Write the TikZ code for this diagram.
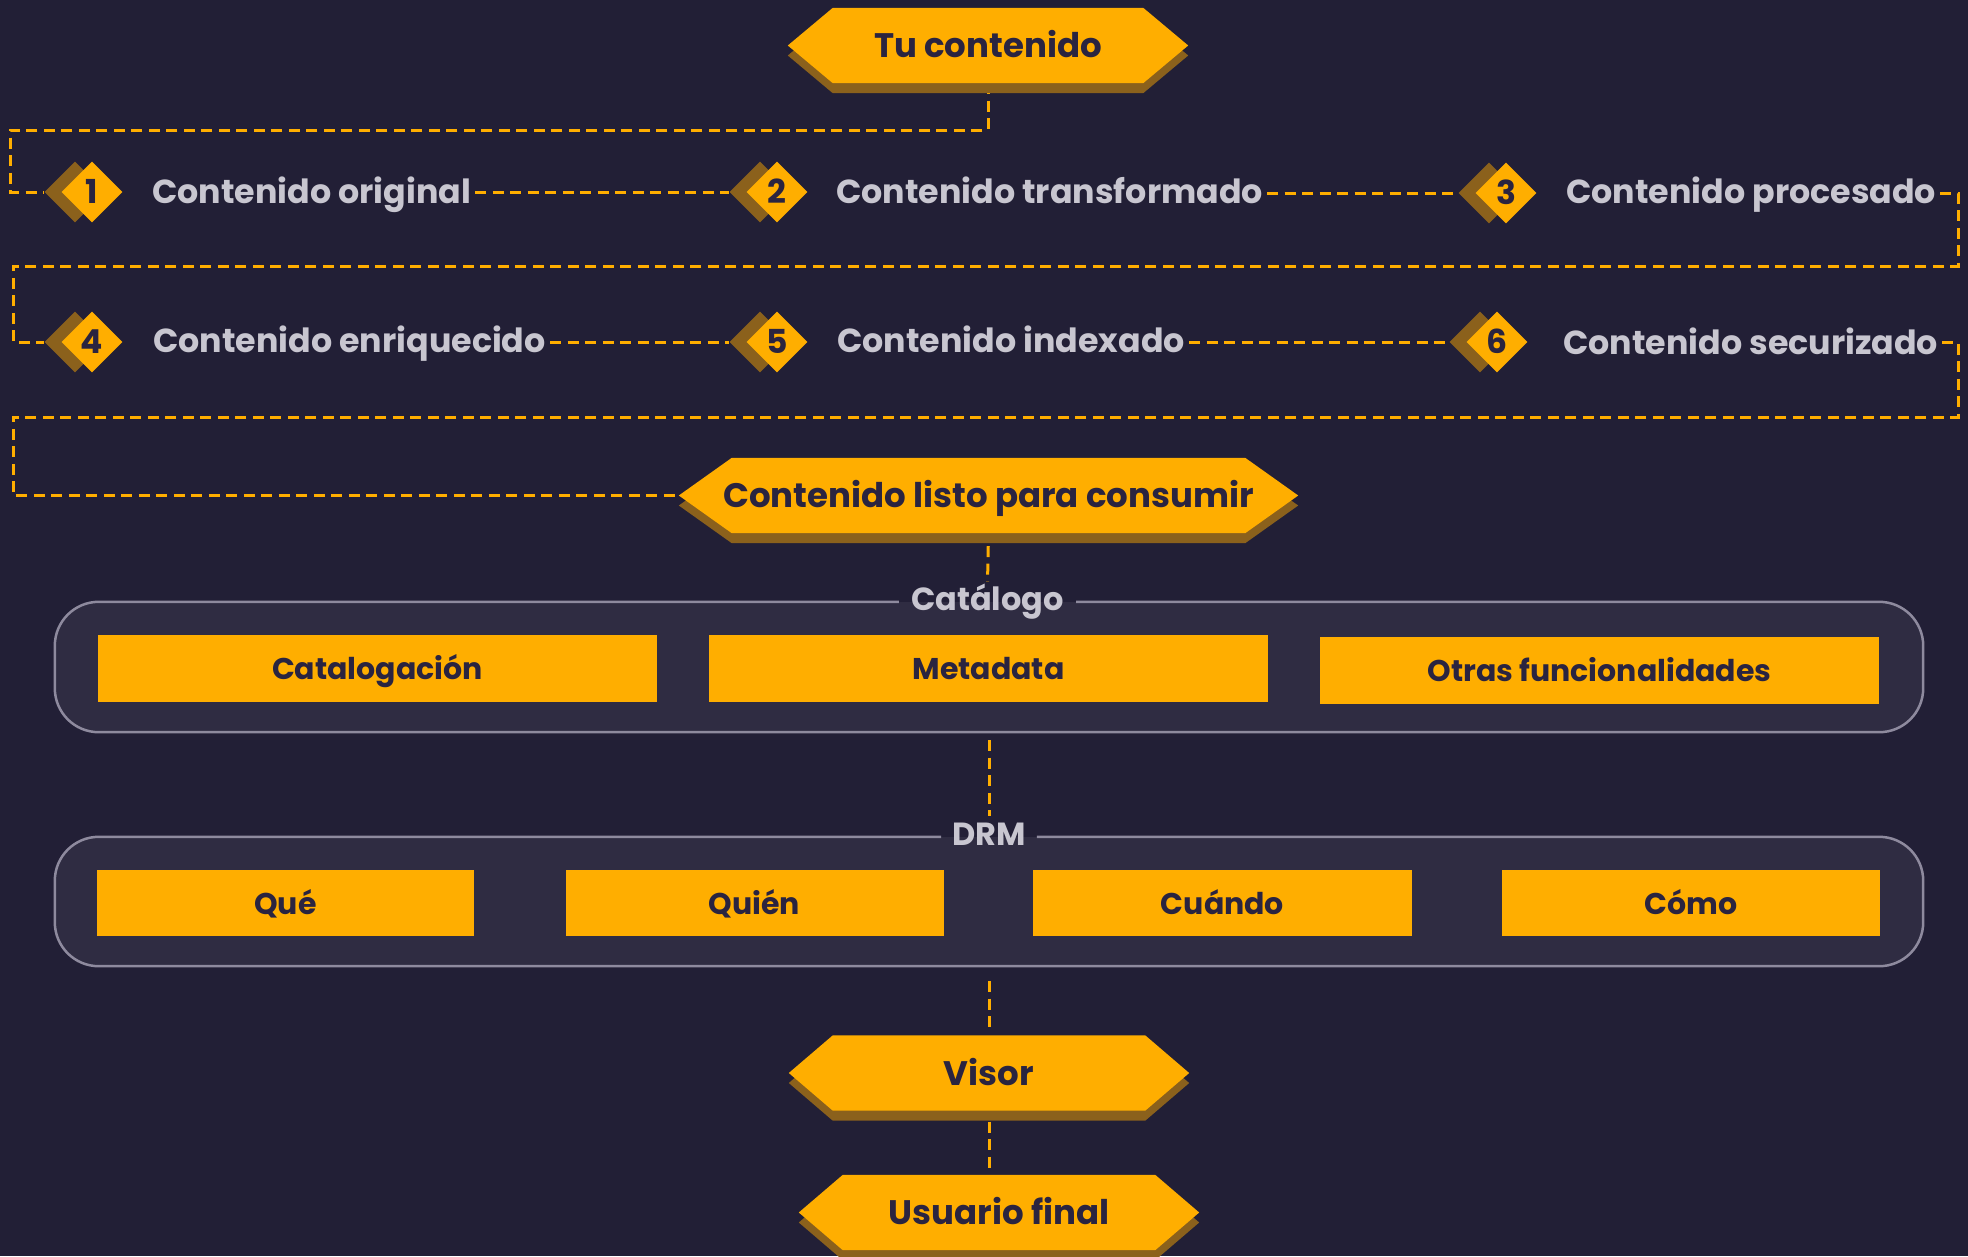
\documentclass[tikz,border=0pt]{standalone}
\usepackage{fontspec}
\setmainfont{Poppins}
\usetikzlibrary{shapes.geometric,calc}
\definecolor{bgc}{HTML}{221F36}
\definecolor{boxc}{HTML}{2F2C42}
\definecolor{borderc}{HTML}{8E8A9E}
\definecolor{orc}{HTML}{FFAE00}
\definecolor{shc}{HTML}{8B611C}
\definecolor{darkc}{HTML}{2A2440}
\definecolor{lightc}{HTML}{C8C6D0}
\pgfdeclarelayer{bgl}
\pgfdeclarelayer{lines}
\pgfdeclarelayer{shapes}
\pgfsetlayers{bgl,lines,shapes,main}
\newcommand\myhex[2]{%
\begin{pgfonlayer}{shapes}
\fill[shc] ([yshift=-10pt]#1.west) -- ([xshift=#2,yshift=-10pt]#1.north west) -- ([xshift=-#2,yshift=-10pt]#1.north east) -- ([yshift=-10pt]#1.east) -- ([xshift=-#2,yshift=-10pt]#1.south east) -- ([xshift=#2,yshift=-10pt]#1.south west) -- cycle;
\fill[orc] (#1.west) -- ([xshift=#2]#1.north west) -- ([xshift=-#2]#1.north east) -- (#1.east) -- ([xshift=-#2]#1.south east) -- ([xshift=#2]#1.south west) -- cycle;
\end{pgfonlayer}}
\begin{document}
\begin{tikzpicture}[x=1pt,y=-1pt,
  hexnode/.style={rectangle, minimum height=75pt, inner sep=0pt, text=darkc,
    font=\fontsize{34pt}{40pt}\selectfont\bfseries, text height=24pt, text depth=0pt},
  dshadow/.style={diamond, fill=shc, minimum width=61pt, minimum height=61pt, inner sep=0pt},
  dmain/.style={diamond, fill=orc, minimum width=61pt, minimum height=61pt, inner sep=0pt,
    text=darkc, font=\fontsize{33pt}{38pt}\selectfont\bfseries, text height=23pt, text depth=0pt},
  listtxt/.style={anchor=west, inner sep=0pt, text=lightc,
    font=\fontsize{33.3pt}{40pt}\selectfont\bfseries, text height=24pt, text depth=0pt},
  conn/.style={draw=orc, line width=3pt, dash pattern=on 11pt off 6.5pt},
  group/.style={rectangle, fill=boxc, rounded corners=44pt, inner sep=0pt, minimum width=1868pt},
  frame/.style={draw=borderc, line width=2.5pt, rounded corners=44pt},
  grlabel/.style={inner xsep=12pt, inner ysep=4pt, text=lightc,
    font=\fontsize{32pt}{38pt}\selectfont\bfseries, text height=23pt, text depth=0pt},
  inbox/.style={rectangle, fill=orc, inner sep=0pt, minimum height=67pt, text=darkc,
    font=\fontsize{30pt}{36pt}\selectfont\bfseries, text height=22pt, text depth=0pt}
]
\begin{pgfonlayer}{bgl}
\fill[bgc] (0,0) rectangle (1968,1256);
\end{pgfonlayer}
\useasboundingbox (0,0) rectangle (1968,1256);

% top hexagon
\node[hexnode, minimum width=400pt] (tu) at (988,45.5) {Tu contenido};
\myhex{tu}{45pt}

% row 1
\node[dshadow] (ds1) at (75,192) {};
\node[dmain] (d1) at (92,192) {1};
\node[listtxt] (t1) at (152,191) {Contenido original};
\node[dshadow] (ds2) at (760,192) {};
\node[dmain] (d2) at (777,192) {2};
\node[listtxt] (t2) at (836,191) {Contenido transformado};
\node[dshadow] (ds3) at (1489,193) {};
\node[dmain] (d3) at (1506,193) {3};
\node[listtxt] (t3) at (1566,191) {Contenido procesado};

% row 2
\node[dshadow] (ds4) at (75,342) {};
\node[dmain] (d4) at (92,342) {4};
\node[listtxt] (t4) at (153,340) {Contenido enriquecido};
\node[dshadow] (ds5) at (760,342) {};
\node[dmain] (d5) at (777,342) {5};
\node[listtxt] (t5) at (837,340) {Contenido indexado};
\node[dshadow] (ds6) at (1480,342) {};
\node[dmain] (d6) at (1497,342) {6};
\node[listtxt] (t6) at (1563,342) {Contenido securizado};

% ready hexagon
\node[hexnode, minimum width=619pt] (listo) at (988.5,495.5) {Contenido listo para consumir};
\myhex{listo}{53pt}

% catalog group
\node[group, minimum height=130pt] (cat) at (989,667) {};
\node[grlabel] (catlbl) at (987.5,599) {Catálogo};
\draw[frame] (catlbl.east |- cat.north) -- (cat.north east) -- (cat.south east) -- (cat.south west) -- (cat.north west) -- (catlbl.west |- cat.north);
\node[inbox, minimum width=559pt] (cb1) at (377.5,668.5) {Catalogación};
\node[inbox, minimum width=559pt] (cb2) at (988.5,668.5) {Metadata};
\node[inbox, minimum width=559pt] (cb3) at (1599.5,670) {Otras funcionalidades};

% DRM group
\node[group, minimum height=129pt] (drm) at (989,901.5) {};
\node[grlabel, inner xsep=11pt] (drmlbl) at (989,834) {DRM};
\draw[frame] (drmlbl.east |- drm.north) -- (drm.north east) -- (drm.south east) -- (drm.south west) -- (drm.north west) -- (drmlbl.west |- drm.north);
\node[inbox, minimum width=377pt, minimum height=66pt] (rb1) at (285.5,903) {Qué};
\node[inbox, minimum width=378pt, minimum height=66pt] (rb2) at (754.5,903) {Quién};
\node[inbox, minimum width=379pt, minimum height=66pt] (rb3) at (1222.5,903) {Cuándo};
\node[inbox, minimum width=378pt, minimum height=66pt] (rb4) at (1691,903) {Cómo};

% bottom hexagons
\node[hexnode, minimum width=400pt] (visor) at (989,1073) {Visor};
\myhex{visor}{44pt}
\node[hexnode, minimum width=400pt] (user) at (999,1212.5) {Usuario final};
\myhex{user}{44pt}

% connectors
\begin{pgfonlayer}{lines}
\draw[conn] (tu.south) -- (tu.south |- 0,130) -| (10,160) |- (ds1.west);
\draw[conn, shorten <=4pt] (t1.east |- ds2.west) -- (ds2.west);
\draw[conn, shorten <=4pt] (t2.east |- ds3.west) -- (ds3.west);
\draw[conn, shorten <=4pt] (t3.east |- ds3.west) -- (1958,193) -- (1958,266) -- (13,266) |- (ds4.west);
\draw[conn, shorten <=4pt] (t4.east |- ds5.west) -- (ds5.west);
\draw[conn, shorten <=4pt] (t5.east |- ds6.west) -- (ds6.west);
\draw[conn, shorten <=4pt] (t6.east |- ds6.west) -- (1958,342) -- (1958,417) -- (13,417) |- (listo.west);
\draw[conn, shorten <=13pt, shorten >=2pt] (listo.south) -- (catlbl.north);
\draw[conn, shorten <=8pt, shorten >=2pt] (cat.south) -- (drmlbl.north);
\draw[conn, shorten <=15pt, shorten >=3pt] (drm.south) -- (visor.north);
\draw[conn, shorten <=11pt, shorten >=2pt] (visor.south) -- (visor.south |- user.north);
\end{pgfonlayer}
\end{tikzpicture}
\end{document}
